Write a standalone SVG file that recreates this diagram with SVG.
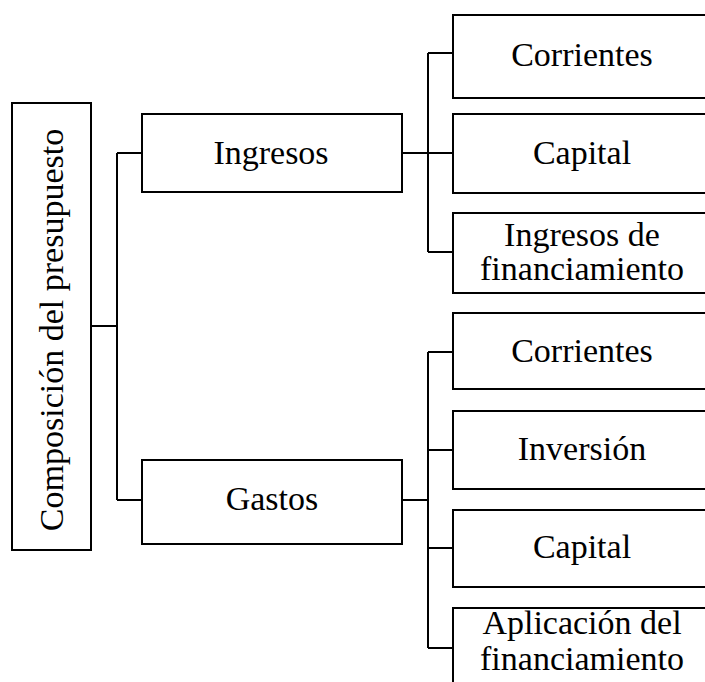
<svg xmlns="http://www.w3.org/2000/svg" width="705" height="682" viewBox="0 0 705 682">
<style>
rect{fill:#fff;stroke:#000;stroke-width:2}
.c{fill:none;stroke:#000;stroke-width:2}
text{font-family:'Liberation Serif','Times New Roman',serif;font-size:34px;fill:#000;text-anchor:middle}
</style>
<rect x="0" y="0" width="705" height="682" style="stroke:none"/>
<g id="connectors" class="c">
<path d="M91 326H117M117 153V500M117 153H142M117 500H142"/>
<path d="M402 153H428M428 53V252M428 53H453M428 153H453M428 252H453"/>
<path d="M402 500H428M428 352V648M428 352H453M428 450H453M428 548H453M428 648H453"/>
</g>
<g id="root"><rect x="12" y="103" width="79" height="447"/><text transform="translate(63 330) rotate(-90)">Composición del presupuesto</text></g>
<g id="ingresos"><rect x="142" y="114" width="260" height="78"/><text x="271" y="164">Ingresos</text></g>
<g id="gastos"><rect x="142" y="460" width="260" height="84"/><text x="272" y="510">Gastos</text></g>
<g id="ing-corrientes"><rect x="453" y="15" width="270" height="83"/><text x="582" y="66">Corrientes</text></g>
<g id="ing-capital"><rect x="453" y="114" width="270" height="79"/><text x="582" y="164">Capital</text></g>
<g id="ing-financiamiento"><rect x="453" y="213" width="270" height="80"/><text x="582" y="246">Ingresos de</text><text x="582" y="280">financiamiento</text></g>
<g id="gas-corrientes"><rect x="453" y="313" width="270" height="76"/><text x="582" y="362">Corrientes</text></g>
<g id="gas-inversion"><rect x="453" y="411" width="270" height="78"/><text x="582" y="460">Inversión</text></g>
<g id="gas-capital"><rect x="453" y="510" width="270" height="77"/><text x="582" y="558">Capital</text></g>
<g id="gas-aplicacion"><rect x="453" y="608" width="270" height="100"/><text x="582" y="634">Aplicación del</text><text x="582" y="670">financiamiento</text></g>
</svg>
